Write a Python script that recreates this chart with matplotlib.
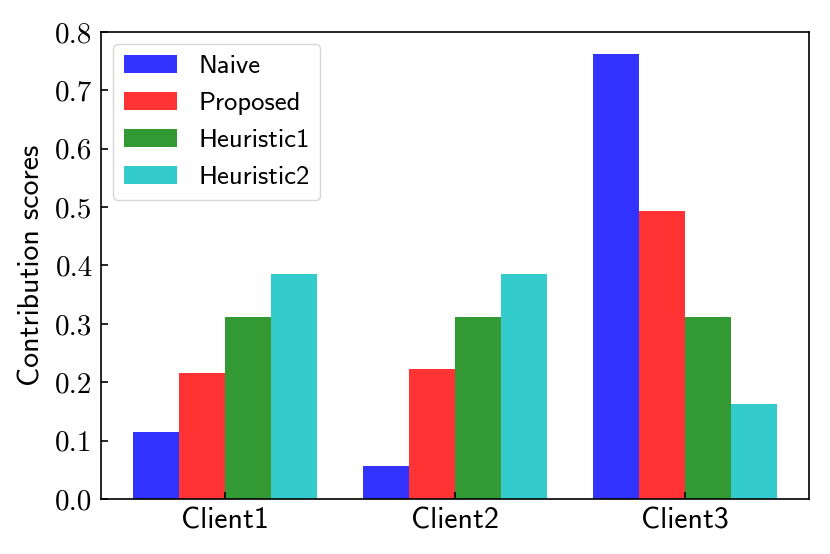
import numpy as np
import matplotlib
matplotlib.use('Agg')
import matplotlib.pyplot as plt

clients = ['Client1', 'Client2', 'Client3']
methods = ['Naive', 'Proposed', 'Heuristic1', 'Heuristic2']
naive = [0.114, 0.057, 0.762]
proposed = [0.215, 0.223, 0.493]
heuristic1 = [0.311, 0.311, 0.311]
heuristic2 = [0.385, 0.385, 0.163]
colors = ['blue', 'red', 'green', 'c']
yticks = [0.0, 0.1, 0.2, 0.3, 0.4, 0.5, 0.6, 0.7, 0.8]

scores = [naive, proposed, heuristic1, heuristic2]

fig = plt.figure(figsize=(8.3, 5.54), dpi=100)
ax = fig.add_axes([0.1217, 0.0993, 0.853, 0.843])

x = np.arange(len(clients))
width = 0.2
for k in range(len(methods)):
    ax.bar(x + (k - 1.5) * width, scores[k], width, color=colors[k], alpha=0.8, label=methods[k])

ax.set_xticks(x)
ax.set_xticklabels(clients, family='cmss10', fontsize=21.5)
ax.set_ylim(0, 0.8)
ax.set_yticks(yticks)
ax.set_yticklabels(['{:.1f}'.format(v) for v in yticks], family='cmr10', fontsize=21)
ax.tick_params(direction='in', length=5, width=1.2, pad=6)
ax.set_ylabel('Contribution scores', family='cmss10', fontsize=21.5, labelpad=7)
for s in ax.spines.values():
    s.set_linewidth(1.2)

ax.legend(loc='upper left', prop={'family': 'cmss10', 'size': 19.2}, borderaxespad=0.45)

fig.savefig('out.png', dpi=100)
